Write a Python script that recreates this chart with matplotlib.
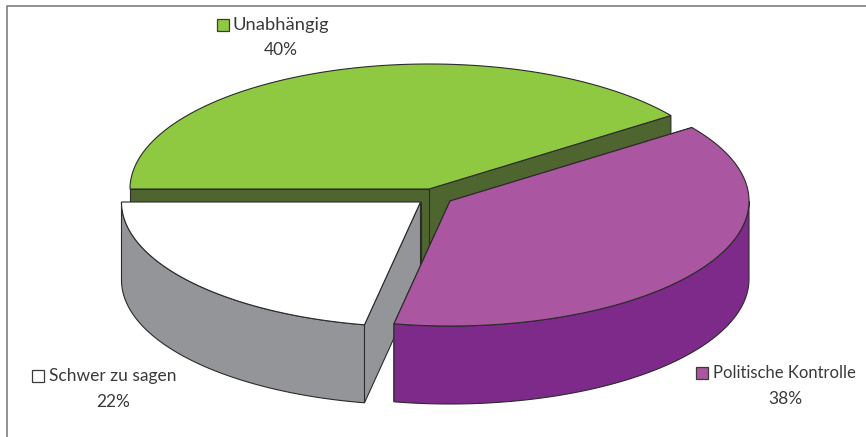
import numpy as np
from matplotlib import pyplot as plt

plt.rcParams['font.family'] = ['Lato', 'DejaVu Sans']

labels = ["Unabhängig", "Schwer zu sagen", "Politische Kontrolle"]
shares = [40, 22, 38]
top_colors = ["#8fc841", "#ffffff", "#aa56a0"]
side_colors = ["#4f6530", "#939598", "#7d2a8b"]
start_angle = 36

# pixel layout of the slices, y runs down
centers = [(429, 189), (420.5, 202), (450, 201)]
rx = 299
ry = 125
depth = 78
# swatch x, text x, name y, share x, share y
label_pos = [(223, 233, 25, 281, 50), (38, 49, 376, 113, 402), (702, 713, 373, 785, 399)]
label_sizes = [13.2, 12.5, 12]
edge = "#2b2b2b"
text_color = "#3a3a3a"

fig = plt.figure(figsize=(8.66, 4.37), dpi=100)
ax = fig.add_axes([0, 0, 1, 1])
ax.set_xlim(0, 866)
ax.set_ylim(437, 0)
ax.axis("off")

# frame
ax.plot([866, 7, 7], [5.5, 5.5, 437], color="#7f7f7f", lw=1.2)


def arc(cx, cy, a0, a1):
    t = np.radians(np.linspace(a0, a1, 200))
    return cx + rx * np.cos(t), cy - ry * np.sin(t)


angle = start_angle
for i, share in enumerate(shares):
    a0 = angle
    a1 = angle + share * 3.6
    angle = a1
    cx, cy = centers[i]

    # radial walls
    for a in (a0, a1):
        x, y = arc(cx, cy, a, a)
        ax.fill([cx, x[0], x[0], cx], [cy, y[0], y[0] + depth, cy + depth],
                facecolor=side_colors[i], edgecolor=edge, lw=0.8, zorder=i * 2 + 1)

    # outer wall, only the part that faces the viewer
    w0 = max(a0, 180)
    w1 = min(a1, 360)
    if w1 > w0:
        x, y = arc(cx, cy, w0, w1)
        ax.fill(np.r_[x, x[::-1]], np.r_[y, y[::-1] + depth],
                facecolor=side_colors[i], edgecolor=edge, lw=0.8, zorder=i * 2 + 1)

    # top face
    x, y = arc(cx, cy, a0, a1)
    ax.fill(np.r_[cx, x], np.r_[cy, y],
            facecolor=top_colors[i], edgecolor=edge, lw=0.8, zorder=i * 2 + 2)

    # label
    sx, tx, ty, px, py = label_pos[i]
    ax.text(tx, ty, labels[i], fontsize=label_sizes[i], color=text_color,
            ha="left", va="center", zorder=10)
    ax.text(px, py, f"{share}%", fontsize=12.5, color=text_color,
            ha="center", va="center", zorder=10)
    ax.plot(sx, ty, marker="s", ms=9, mfc=top_colors[i], mec=text_color,
            mew=0.9, zorder=10)

fig.savefig("out.png", dpi=100)
